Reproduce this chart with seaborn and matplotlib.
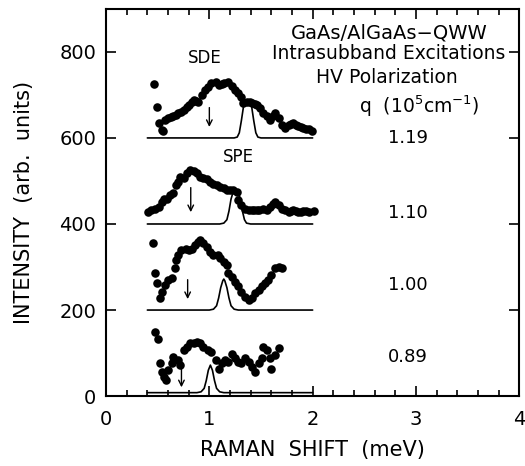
import numpy as np
import pandas as pd
import matplotlib
matplotlib.use('Agg')
import matplotlib.pyplot as plt
import seaborn as sns

# Raman spectra, intrasubband excitations, four wavevectors q
q_labels = ['1.19', '1.10', '1.00', '0.89']

# measured points (dots)
x_119 = [0.46, 0.49, 0.51, 0.54, 0.55, 0.57, 0.60, 0.63, 0.65, 0.68, 0.70, 0.73, 0.75, 0.78, 0.80, 0.83,
         0.85, 0.87, 0.89, 0.93, 0.96, 0.99, 1.02, 1.06, 1.09, 1.12, 1.14, 1.18, 1.22, 1.25, 1.28, 1.31,
         1.33, 1.36, 1.39, 1.41, 1.44, 1.46, 1.49, 1.52, 1.56, 1.59, 1.62, 1.64, 1.67, 1.70, 1.73, 1.77,
         1.79, 1.81, 1.84, 1.86, 1.89, 1.91, 1.94, 1.96, 1.99]
y_119 = [726, 671, 634, 619, 616, 642, 646, 648, 650, 654, 657, 661, 665, 671, 677, 683,
         688, 686, 684, 700, 712, 719, 727, 731, 723, 726, 727, 729, 721, 712, 704, 696,
         681, 684, 683, 681, 679, 677, 669, 657, 650, 642, 650, 657, 646, 630, 623, 630,
         632, 634, 630, 627, 625, 623, 621, 620, 615]

x_110 = [0.41, 0.44, 0.47, 0.51, 0.54, 0.56, 0.59, 0.62, 0.65, 0.68, 0.70, 0.72, 0.75, 0.78, 0.81, 0.85,
         0.88, 0.91, 0.94, 0.98, 1.01, 1.04, 1.07, 1.10, 1.14, 1.17, 1.20, 1.23, 1.27, 1.28, 1.31, 1.35,
         1.38, 1.41, 1.43, 1.46, 1.48, 1.52, 1.56, 1.59, 1.62, 1.64, 1.67, 1.70, 1.73, 1.77, 1.79, 1.81,
         1.84, 1.86, 1.89, 1.91, 1.94, 1.96, 2.01]
y_110 = [429, 433, 436, 440, 452, 459, 457, 467, 471, 491, 498, 510, 506, 518, 526, 522,
         518, 510, 506, 504, 498, 494, 491, 487, 483, 479, 479, 479, 475, 456, 444, 436,
         433, 433, 433, 433, 433, 436, 433, 440, 446, 452, 444, 436, 433, 429, 431, 433,
         430, 427, 429, 431, 430, 429, 430]

x_100 = [0.45, 0.47, 0.49, 0.52, 0.54, 0.57, 0.60, 0.64, 0.67, 0.68, 0.70, 0.73, 0.77, 0.80, 0.83, 0.86,
         0.89, 0.91, 0.94, 0.98, 1.01, 1.04, 1.08, 1.10, 1.14, 1.17, 1.18, 1.22, 1.25, 1.28, 1.31, 1.35,
         1.38, 1.41, 1.44, 1.48, 1.51, 1.54, 1.57, 1.60, 1.64, 1.67, 1.70]
y_100 = [355, 285, 262, 227, 243, 258, 270, 274, 297, 316, 328, 340, 343, 340, 343, 351,
         358, 363, 355, 347, 336, 328, 328, 320, 312, 305, 285, 277, 266, 255, 243, 231,
         223, 227, 239, 247, 255, 262, 270, 281, 297, 301, 297]

x_089 = [0.47, 0.50, 0.52, 0.54, 0.56, 0.58, 0.60, 0.64, 0.65, 0.70, 0.72, 0.75, 0.78, 0.81, 0.85, 0.88,
         0.91, 0.94, 0.99, 1.02, 1.06, 1.09, 1.12, 1.15, 1.18, 1.22, 1.25, 1.28, 1.31, 1.35, 1.38, 1.41,
         1.44, 1.48, 1.51, 1.52, 1.56, 1.59, 1.60, 1.64, 1.67]
y_089 = [148, 132, 76, 57, 45, 37, 60, 76, 91, 84, 72, 107, 115, 123, 124, 126,
         123, 115, 107, 103, 84, 64, 76, 84, 80, 99, 88, 80, 76, 88, 80, 68,
         57, 76, 88, 115, 107, 88, 64, 95, 111]

# fitted lines (baseline + peak)
fx_119 = [0.40, 1.24, 1.27, 1.29, 1.31, 1.33, 1.35, 1.37, 1.39, 1.41, 1.43, 1.45, 1.47, 1.50, 2.00]
fy_119 = [600, 600, 602, 612, 640, 672, 683, 685, 683, 672, 640, 612, 602, 600, 600]
fx_110 = [0.40, 1.10, 1.14, 1.17, 1.19, 1.21, 1.23, 1.255, 1.28, 1.30, 1.32, 1.34, 1.36, 1.40, 2.00]
fy_110 = [400, 400, 402, 410, 430, 458, 474, 479, 474, 458, 430, 410, 402, 400, 400]
fx_100 = [0.40, 1.00, 1.04, 1.07, 1.09, 1.11, 1.13, 1.14, 1.15, 1.17, 1.19, 1.21, 1.24, 1.28, 2.00]
fy_100 = [200, 200, 202, 210, 228, 252, 268, 272, 268, 252, 228, 210, 202, 200, 200]
fx_089 = [0.40, 0.88, 0.92, 0.95, 0.97, 0.99, 1.01, 1.03, 1.05, 1.07, 1.10, 1.14, 2.00]
fy_089 = [8, 8, 10, 18, 36, 60, 72, 60, 36, 18, 10, 8, 8]

# arrows
arrow_x = [1.00, 0.82, 0.79, 0.73]
arrow_top = [677, 491, 277, 84]
arrow_bottom = [619, 421, 219, 14]
q_y = [600, 426, 258, 91]

sns.set_style('ticks')
plt.rcParams['font.family'] = ['DejaVu Sans']
plt.rcParams['text.color'] = 'black'
plt.rcParams['axes.labelcolor'] = 'black'
plt.rcParams['xtick.color'] = 'black'
plt.rcParams['ytick.color'] = 'black'
plt.rcParams['axes.edgecolor'] = 'black'

fig = plt.figure(figsize=(5.25, 4.66), dpi=100)
ax = fig.add_axes([0.202, 0.15, 0.787, 0.831])

dots = pd.concat([
    pd.DataFrame({'x': x_119, 'y': y_119, 'q': '1.19'}),
    pd.DataFrame({'x': x_110, 'y': y_110, 'q': '1.10'}),
    pd.DataFrame({'x': x_100, 'y': y_100, 'q': '1.00'}),
    pd.DataFrame({'x': x_089, 'y': y_089, 'q': '0.89'}),
])
sns.scatterplot(data=dots, x='x', y='y', color='black', s=38, linewidth=0, ax=ax, legend=False)

for fx, fy in [(fx_119, fy_119), (fx_110, fy_110), (fx_100, fy_100), (fx_089, fy_089)]:
    sns.lineplot(x=fx, y=fy, color='black', linewidth=1.2, sort=False, estimator=None, ax=ax)

for xa, yt, yb in zip(arrow_x, arrow_top, arrow_bottom):
    ax.annotate('', xy=(xa, yb), xytext=(xa, yt),
                arrowprops=dict(arrowstyle='->', color='black', lw=1.0, mutation_scale=10))

ax.set_xlim(0, 4)
ax.set_ylim(0, 900)
ax.set_xticks([0, 1, 2, 3, 4])
ax.set_xticks(np.arange(0, 4.01, 0.2), minor=True)
ax.set_yticks([0, 200, 400, 600, 800])
ax.tick_params(which='both', direction='in', top=True, right=True, width=1.2, labelsize=14, pad=7)
ax.tick_params(axis='x', which='major', pad=10)
ax.tick_params(which='major', length=7)
ax.tick_params(which='minor', length=4)
for s in ax.spines.values():
    s.set_linewidth(1.5)

ax.set_xlabel('RAMAN  SHIFT  (meV)', fontsize=15, labelpad=8)
ax.set_ylabel('INTENSITY  (arb.  units)', fontsize=15, labelpad=18)

ax.text(0.96, 786, 'SDE', ha='center', va='center', fontsize=12)
ax.text(1.28, 556, 'SPE', ha='center', va='center', fontsize=12)

ax.text(2.74, 845, 'GaAs/AlGaAs\u2212QWW', ha='center', va='center', fontsize=14)
ax.text(2.74, 796, 'Intrasubband Excitations', ha='center', va='center', fontsize=13.5)
ax.text(2.72, 740, 'HV Polarization', ha='center', va='center', fontsize=13.5)
ax.text(3.03, 674, r'q  (10$^5$cm$^{-1}$)', ha='center', va='center', fontsize=13.5)
for lab, yq in zip(q_labels, q_y):
    ax.text(2.92, yq, lab, ha='center', va='center', fontsize=13)

plt.savefig('out.png', dpi=100)
